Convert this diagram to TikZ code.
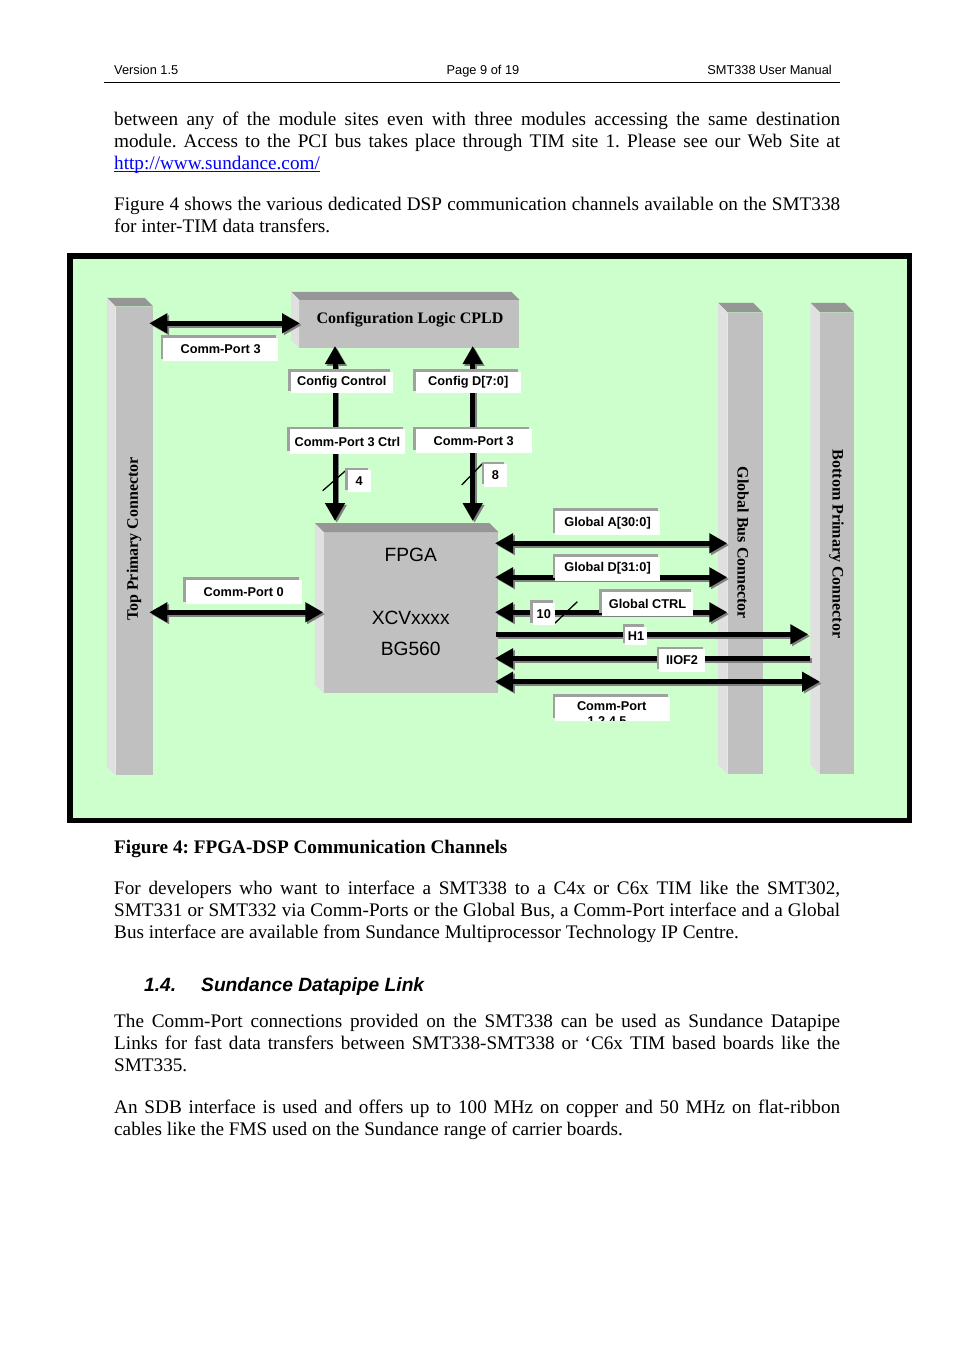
\documentclass[tikz,border=0pt]{standalone}
\usepackage{fontspec}
\setmainfont{Liberation Serif}
\setsansfont{Liberation Sans}
\usetikzlibrary{arrows.meta,shadows,calc}
\definecolor{bg}{HTML}{CCFFCC}
\definecolor{frontc}{HTML}{C0C0C0}
\definecolor{sidec}{HTML}{E0E0E0}
\definecolor{bevelc}{HTML}{969696}
\definecolor{lblshadow}{HTML}{A0A0A0}
\definecolor{arrshadow}{HTML}{808080}
\definecolor{linkc}{HTML}{0000FF}
\newcommand\fsz[1]{\fontsize{#1}{#1}\selectfont}
\frenchspacing
\tikzset{
 lbl/.style={fill=white, inner sep=0pt, font=\sffamily\bfseries\fsz{12.75},
   general shadow={fill=lblshadow, shadow xshift=-2.5pt, shadow yshift=2.5pt}},
 bodytext/.style={anchor=base west, inner sep=0pt, font=\frenchspacing\fsz{19.2}},
 hdrtext/.style={inner sep=0pt, font=\sffamily\fsz{12.8}},
 shaft/.style={line width=5pt},
 tipR/.style={-{Triangle[length=18pt,width=19pt]}},
 tipL/.style={{Triangle[length=18pt,width=19pt]}-},
 tipLR/.style={{Triangle[length=18pt,width=19pt]}-{Triangle[length=18pt,width=19pt]}},
 slash/.style={line width=1.3pt},
 frontface/.style={fill=frontc, inner sep=0pt, draw=none},
 conlbl/.style={font=\bfseries\fsz{16}, inner sep=0pt},
 fpgatext/.style={font=\sffamily\fsz{19.2}, inner sep=0pt, anchor=base},
}
\newcommand\busline[3]{%
 \draw[shaft,#1,color=arrshadow,transform canvas={shift={(1.8pt,-1.8pt)}}] (#2) -- (#3);
 \draw[shaft,#1] (#2) -- (#3);}
\newcommand\solidbox[6]{%
 \node[frontface, minimum width=#4pt, minimum height=#5pt] (#1) at (#2,#3) {};
 \fill[bevelc] ($(#1.north west)+(-#6,-#6)$) -- ($(#1.north east)+(-#6,-#6)$) -- (#1.north east) -- (#1.north west) -- cycle;
 \fill[sidec] ($(#1.north west)+(-#6,-#6)$) -- (#1.north west) -- (#1.south west) -- ($(#1.south west)+(-#6,-#6)$) -- cycle;}
\begin{document}
\begin{tikzpicture}[x=1pt,y=-1pt]
\useasboundingbox (0,0) rectangle (954,1351);
\fill[white] (0,0) rectangle (954,1351);
% header
\node[hdrtext, anchor=base west] (hdrL) at (114,74.5) {Version 1.5};
\node[hdrtext, anchor=base] (hdrC) at (483,74.5) {Page 9 of 19};
\node[hdrtext, anchor=base east] (hdrR) at (832,74.5) {SMT338 User Manual};
\coordinate (ruleL) at (104,82.5); \coordinate (ruleR) at (840,82.5);
\draw[line width=1pt] (ruleL) -- (ruleR);
% paragraphs above
\node[bodytext] (p1a) at (114,125.5) {\hbox to 726pt{between any of the module sites even with three modules accessing the same destination}};
\node[bodytext] (p1b) at (114,147.5) {\hbox to 726pt{module. Access to the PCI bus takes place through TIM site 1. Please see our Web Site at}};
\node[bodytext, text=linkc] (p1c) at (114,169.5) {http://www.sundance.com/};
\draw[linkc, line width=1pt] ($(p1c.base west)+(0,2.2)$) -- ($(p1c.base east)+(0,2.2)$);
\node[bodytext] (p2a) at (114,210.5) {\hbox to 726pt{Figure 4 shows the various dedicated DSP communication channels available on the SMT338}};
\node[bodytext] (p2b) at (114,232.5) {for inter-TIM data transfers.};
% diagram frame
\draw[line width=5.5pt, fill=bg] (69.75,255.75) rectangle (909.25,820.25);
% solid blocks
\solidbox{tpc}{134.25}{540.75}{37.5}{468.5}{8.5}
\solidbox{gbc}{745}{543.25}{35}{461.5}{9.5}
\solidbox{bpc}{837}{543.25}{34}{461.5}{9.5}
\solidbox{cpld}{409.3}{323.85}{220}{47.7}{8}
\solidbox{fpga}{411.15}{612.8}{174.3}{161}{9}
\node[conlbl, rotate=90] (tpcL) at (134,539) {Top Primary Connector};
\node[conlbl, rotate=-90] (gbcL) at (743,543) {Global Bus Connector};
\node[conlbl, rotate=-90] (bpcL) at (836.5,544) {Bottom Primary Connector};
\node[conlbl, anchor=base] (cpldL) at (410,323.2) {Configuration Logic CPLD};
\node[fpgatext] (fpgaL1) at (410.7,561) {FPGA};
\node[fpgatext] (fpgaL2) at (410.7,624) {XCVxxxx};
\node[fpgatext] (fpgaL3) at (410.7,655.7) {BG560};
% connector end points
\coordinate (cp3L) at (149.3,323.3); \coordinate (cp3R) at (300,323.3);
\coordinate (ccT) at (335,346); \coordinate (ccB) at (335,521);
\coordinate (cdT) at (472.7,346); \coordinate (cdB) at (472.7,521);
\coordinate (gaL) at (495,543.3); \coordinate (gaR) at (727.3,543.3);
\coordinate (gdL) at (495,577.3); \coordinate (gdR) at (727.3,577.3);
\coordinate (gcL) at (495,612.3); \coordinate (gcR) at (727.3,612.3);
\coordinate (h1L) at (496,634.3); \coordinate (h1R) at (808.3,634.3);
\coordinate (iiL) at (495,658.3); \coordinate (iiR) at (810,658.3);
\coordinate (cbL) at (495,681.7); \coordinate (cbR) at (820,681.7);
\coordinate (c0L) at (149.3,612.3); \coordinate (c0R) at (323.3,612.3);
% connectors
\busline{tipLR}{cp3L}{cp3R}
\busline{tipLR}{ccT}{ccB}
\busline{tipLR}{cdT}{cdB}
\busline{tipLR}{gaL}{gaR}
\busline{tipLR}{gdL}{gdR}
\busline{tipLR}{gcL}{gcR}
\busline{tipR}{h1L}{h1R}
\busline{tipL}{iiL}{iiR}
\busline{tipLR}{cbL}{cbR}
\busline{tipLR}{c0L}{c0R}
% bus width slashes
\coordinate (s4a) at (322.7,490.7); \coordinate (s4b) at (348.3,468.3);
\coordinate (s8a) at (461.7,485); \coordinate (s8b) at (483.3,462.7);
\coordinate (s10a) at (554,624); \coordinate (s10b) at (577.3,601.7);
\draw[slash] (s4a) -- (s4b);
\draw[slash] (s8a) -- (s8b);
\draw[slash] (s10a) -- (s10b);
% labels
\node[lbl, minimum width=114.8pt, minimum height=23.5pt] (lcp3a) at (220.6,349.25) {Comm-Port 3};
\node[lbl, minimum width=101.9pt, minimum height=21.5pt] (lcc) at (341.75,382.5) {Config Control};
\node[lbl, minimum width=104.9pt, minimum height=21.5pt] (lcd) at (468.25,382.5) {Config D[7:0]};
\node[lbl, minimum width=115.2pt, minimum height=24.5pt] (lcp3c) at (347.4,441.45) {Comm-Port 3 Ctrl};
\node[lbl, minimum width=115.9pt, minimum height=23.5pt] (lcp3b) at (473.75,440.95) {Comm-Port 3};
\node[lbl, minimum width=23.2pt, minimum height=22.1pt] (l4) at (359.1,481.25) {4};
\node[lbl, minimum width=22.5pt, minimum height=22.5pt] (l8) at (495.45,475.45) {8};
\node[lbl, minimum width=104.8pt, minimum height=24.2pt] (lga) at (607.6,522.9) {Global A[30:0]};
\node[lbl, minimum width=104.8pt, minimum height=24.2pt] (lgd) at (607.6,568.6) {Global D[31:0]};
\node[lbl, minimum width=91.5pt, minimum height=24.2pt] (lgc) at (647.55,603.6) {Global CTRL};
\node[lbl, minimum width=22.5pt, minimum height=22.5pt] (l10) at (543.75,613.75) {10};
\node[lbl, minimum width=21.5pt, minimum height=18.5pt] (lh1) at (635.95,635.75) {H1};
\node[lbl, minimum width=45.8pt, minimum height=22.5pt] (lii) at (682.1,660.45) {IIOF2};
\node[lbl, minimum width=115.9pt, minimum height=24.5pt] (lcp0) at (243.75,592.05) {Comm-Port 0};
\node[lbl, minimum width=114.8pt, minimum height=24.2pt] (lcpb) at (612.6,708.6) {};
\begin{scope}
\clip (lcpb.north west) rectangle (lcpb.south east);
\node[font=\sffamily\bfseries\fsz{12.75}, anchor=base, inner sep=0pt] (lcpbt1) at (611.7,710.5) {Comm-Port};
\node[font=\sffamily\bfseries\fsz{12.75}, anchor=base, inner sep=0pt] (lcpbt2) at (607,725.5) {1,2,4,5};
\end{scope}
% caption and text below
\node[bodytext, font=\bfseries\fsz{19.2}] (cap) at (114,853) {Figure 4: FPGA-DSP Communication Channels};
\node[bodytext] (p3a) at (114,894.5) {\hbox to 726pt{For developers who want to interface a SMT338 to a C4x or C6x TIM like the SMT302,}};
\node[bodytext] (p3b) at (114,916.5) {\hbox to 726pt{SMT331 or SMT332 via Comm-Ports or the Global Bus, a Comm-Port interface and a Global}};
\node[bodytext] (p3c) at (114,938.5) {Bus interface are available from Sundance Multiprocessor Technology IP Centre.};
\node[bodytext, font=\sffamily\bfseries\itshape\fsz{19.2}] (h14n) at (144,991) {1.4.};
\node[bodytext, font=\sffamily\bfseries\itshape\fsz{19.2}] (h14t) at (201,991) {Sundance Datapipe Link};
\node[bodytext] (p4a) at (114,1027) {\hbox to 726pt{The Comm-Port connections provided on the SMT338 can be used as Sundance Datapipe}};
\node[bodytext] (p4b) at (114,1049) {\hbox to 726pt{Links for fast data transfers between SMT338-SMT338 or ‘C6x TIM based boards like the}};
\node[bodytext] (p4c) at (114,1071) {SMT335.};
\node[bodytext] (p5a) at (114,1113) {\hbox to 726pt{An SDB interface is used and offers up to 100 MHz on copper and 50 MHz on flat-ribbon}};
\node[bodytext] (p5b) at (114,1135) {cables like the FMS used on the Sundance range of carrier boards.};
\end{tikzpicture}
\end{document}
